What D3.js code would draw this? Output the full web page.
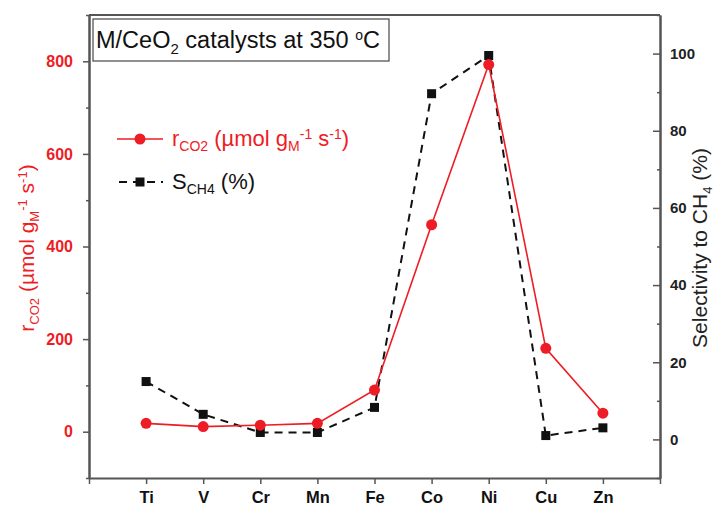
<!DOCTYPE html>
<html>
<head>
<meta charset="utf-8">
<script src="https://cdn.jsdelivr.net/npm/d3@7"></script>
<style>
  body { margin: 0; background: #fff; }
  svg { font-family: Arial, "Liberation Sans", sans-serif; }
</style>
</head>
<body>
<svg id="chart" width="727" height="508"></svg>
<script>
const metals = ["Ti", "V", "Cr", "Mn", "Fe", "Co", "Ni", "Cu", "Zn"];
const rateCO2 = [18, 11, 14, 18, 90, 447, 793, 180, 40];
const selCH4 = [15, 6.5, 1.8, 1.8, 8.3, 89.6, 99.5, 1, 3];
const leftTicks = [0, 200, 400, 600, 800];
const leftMinor = [-100, 100, 300, 500, 700, 900];
const rightTicks = [0, 20, 40, 60, 80, 100];
const rightMinor = [-10, 10, 30, 50, 70, 90, 110];

const red = "#ee1c24";
const axisColor = "#555";

const margin = {left: 89, right: 67, top: 15};
const width = 727 - margin.left - margin.right;
const plotH = 478 - margin.top;

const svg = d3.select("#chart");
const g = svg.append("g").attr("transform", `translate(${margin.left},${margin.top})`);

const x = d3.scaleLinear().domain([0, metals.length + 1]).range([0, width]);
const yL = d3.scaleLinear().domain([-100, 900]).range([plotH, 0]);
const yR = d3.scaleLinear().domain([-10, 110]).range([plotH, 0]);

// axes
function style_axis(sel, color, size) {
    sel.select(".domain").attr("stroke", axisColor).attr("stroke-width", 2);
    sel.selectAll(".tick line").attr("stroke", axisColor).attr("stroke-width", 1.5);
    sel.selectAll(".tick text")
        .attr("fill", color)
        .style("font-size", size + "px")
        .style("font-weight", "bold");
}

const xAxis = g.append("g")
    .attr("transform", `translate(0,${plotH})`)
    .call(d3.axisBottom(x)
        .tickValues(d3.range(0, metals.length + 2))
        .tickFormat(i => metals[i - 1] || "")
        .tickSize(6).tickSizeOuter(0).tickPadding(7));
style_axis(xAxis, "#111", 16.5);

g.append("g")
    .call(d3.axisLeft(yL).tickValues(leftMinor).tickFormat("").tickSize(3).tickSizeOuter(0))
    .call(s => style_axis(s, red, 16));
const leftAxis = g.append("g")
    .call(d3.axisLeft(yL).tickValues(leftTicks).tickSize(6).tickSizeOuter(0).tickPadding(10));
style_axis(leftAxis, red, 16);

g.append("g")
    .attr("transform", `translate(${width},0)`)
    .call(d3.axisRight(yR).tickValues(rightMinor).tickFormat("").tickSize(-3).tickSizeOuter(0))
    .call(s => style_axis(s, "#222", 15));
const rightAxis = g.append("g")
    .attr("transform", `translate(${width},0)`)
    .call(d3.axisRight(yR).tickValues(rightTicks).tickSize(-7).tickSizeOuter(0).tickPadding(10));
style_axis(rightAxis, "#222", 15);

g.append("line")
    .attr("x1", 0).attr("x2", width).attr("y1", 0).attr("y2", 0)
    .attr("stroke", axisColor).attr("stroke-width", 2);

// series
const rLine = d3.line().x((d, i) => x(i + 1)).y(d => yL(d));
const sLine = d3.line().x((d, i) => x(i + 1)).y(d => yR(d));

g.append("path").datum(selCH4)
    .attr("d", sLine).attr("fill", "none")
    .attr("stroke", "#111").attr("stroke-width", 2).attr("stroke-dasharray", "8,6");

g.append("path").datum(rateCO2)
    .attr("d", rLine).attr("fill", "none")
    .attr("stroke", red).attr("stroke-width", 1.6);

g.selectAll(".sq").data(selCH4).enter().append("rect")
    .attr("class", "sq")
    .attr("x", (d, i) => x(i + 1) - 4.5).attr("y", d => yR(d) - 4.5)
    .attr("width", 9).attr("height", 9).attr("fill", "#111");

g.selectAll(".dot").data(rateCO2).enter().append("circle")
    .attr("class", "dot")
    .attr("cx", (d, i) => x(i + 1)).attr("cy", d => yL(d))
    .attr("r", 5.5).attr("fill", red);

// title box
svg.append("rect").attr("x", 93).attr("y", 19).attr("width", 296).attr("height", 42)
    .attr("fill", "#fff").attr("stroke", "#555").attr("stroke-width", 1.3);
const title = svg.append("text").attr("x", 96).attr("y", 48)
    .style("font-size", "23.5px").attr("fill", "#111");
title.append("tspan").text("M/CeO");
title.append("tspan").attr("dy", 6).style("font-size", "15px").text("2");
title.append("tspan").attr("dy", -6).text(" catalysts at 350 ");
title.append("tspan").attr("dy", -8).style("font-size", "14px").text("o");
title.append("tspan").attr("dy", 8).text("C");

// legend
function rate_label(t, small) {
    t.append("tspan").text("r");
    t.append("tspan").attr("dy", 5).style("font-size", small + "px").text("CO2");
    t.append("tspan").attr("dy", -5).text(" (µmol g");
    t.append("tspan").attr("dy", 5).style("font-size", small + "px").text("M");
    t.append("tspan").attr("dy", -12).style("font-size", small + "px").text("-1");
    t.append("tspan").attr("dy", 7).text(" s");
    t.append("tspan").attr("dy", -7).style("font-size", small + "px").text("-1");
    t.append("tspan").attr("dy", 7).text(")");
}

const lg = svg.append("g");
lg.append("line").attr("x1", 117).attr("x2", 163).attr("y1", 139).attr("y2", 139)
    .attr("stroke", red).attr("stroke-width", 1.6);
lg.append("circle").attr("cx", 140).attr("cy", 139).attr("r", 5.5).attr("fill", red);
const lt1 = lg.append("text").attr("x", 172).attr("y", 146)
    .style("font-size", "22px").attr("fill", red);
rate_label(lt1, 14);

lg.append("line").attr("x1", 117).attr("x2", 163).attr("y1", 182).attr("y2", 182)
    .attr("stroke", "#111").attr("stroke-width", 2).attr("stroke-dasharray", "8,6")
    .attr("stroke-dashoffset", -2);
lg.append("rect").attr("x", 135.5).attr("y", 177.5).attr("width", 9).attr("height", 9).attr("fill", "#111");
const lt2 = lg.append("text").attr("x", 172).attr("y", 189)
    .style("font-size", "22px").attr("fill", "#111");
lt2.append("tspan").text("S");
lt2.append("tspan").attr("dy", 5).style("font-size", "14px").text("CH4");
lt2.append("tspan").attr("dy", -5).text(" (%)");

// axis titles
const yl = svg.append("text")
    .attr("transform", "translate(34,248) rotate(-90)")
    .attr("text-anchor", "middle")
    .style("font-size", "21px").attr("fill", red);
rate_label(yl, 13);

const yr = svg.append("text")
    .attr("transform", "translate(707,248) rotate(-90)")
    .attr("text-anchor", "middle")
    .style("font-size", "21px").attr("fill", "#222");
yr.append("tspan").text("Selectivity to CH");
yr.append("tspan").attr("dy", 5).style("font-size", "13px").text("4");
yr.append("tspan").attr("dy", -5).text(" (%)");
</script>
</body>
</html>
